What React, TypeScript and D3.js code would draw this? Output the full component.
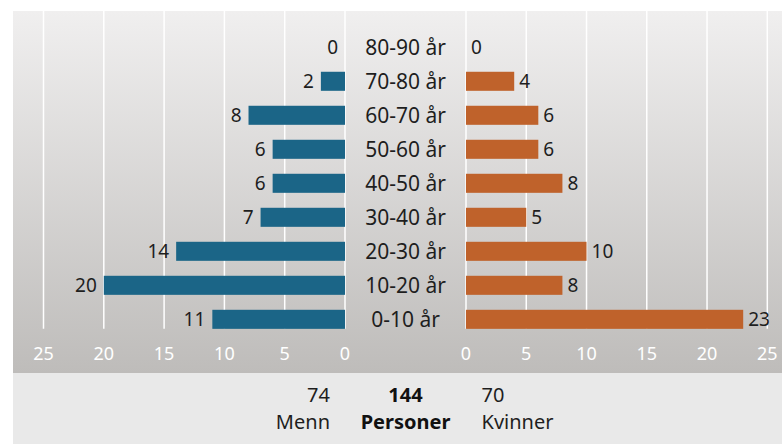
import React from 'react';
import * as d3 from 'd3';

// age groups, top to bottom
const ageGroups = ['80-90 år', '70-80 år', '60-70 år', '50-60 år', '40-50 år', '30-40 år', '20-30 år', '10-20 år', '0-10 år'];
const menValues = [0, 2, 8, 6, 6, 7, 14, 20, 11];
const womenValues = [0, 4, 6, 6, 8, 5, 10, 8, 23];
const axisTicks = [0, 5, 10, 15, 20, 25];
const menLabel = 'Menn';
const womenLabel = 'Kvinner';
const totalLabel = 'Personer';

const W = 782;
const H = 444;
const FONT = "'Noto Sans', 'Open Sans', sans-serif";
const BLUE = '#1b6587';
const ORANGE = '#bf622b';
const TEXT = '#1e1e1e';

export default function App() {
  const panelLeft = 13;
  const panelTop = 11;
  const panelBottom = 373;

  const xLeft = d3.scaleLinear().domain([0, 25]).range([345, 43.5]);
  const xRight = d3.scaleLinear().domain([0, 25]).range([466, 767.3]);
  const y = d3.scaleBand<string>().domain(ageGroups).range([22.8, 343.8]).paddingInner(0.44).paddingOuter(0.44);
  const bw = y.bandwidth();
  const gridBottom = (y(ageGroups[ageGroups.length - 1]) as number) + bw;
  const midX = (xLeft(0) + xRight(0)) / 2;

  const totalMen = d3.sum(menValues);
  const totalWomen = d3.sum(womenValues);

  return (
    <div style={{ position: 'fixed', left: 0, top: 0 }}>
      <svg width={W} height={H} style={{ display: 'block', fontFamily: FONT }}>
        <defs>
          <linearGradient id="bg" x1="0" y1="0" x2="0" y2="1">
            <stop offset="0%" stopColor="#f0efef" />
            <stop offset="100%" stopColor="#bebcba" />
          </linearGradient>
        </defs>
        <rect x={0} y={0} width={W} height={H} fill="#ffffff" />
        <rect x={panelLeft} y={panelTop} width={W - panelLeft} height={panelBottom - panelTop} fill="url(#bg)" />
        <rect x={panelLeft} y={panelBottom} width={W - panelLeft} height={H - panelBottom} fill="#e9e9e9" />

        {/* gridlines */}
        {axisTicks.map(t => (
          <g key={'g' + t}>
            <line x1={xLeft(t)} x2={xLeft(t)} y1={panelTop} y2={gridBottom} stroke="#ffffff" strokeWidth={1.5} />
            <line x1={xRight(t)} x2={xRight(t)} y1={panelTop} y2={gridBottom} stroke="#ffffff" strokeWidth={1.5} />
          </g>
        ))}

        {/* bars */}
        {ageGroups.map((g, i) => {
          const top = y(g) as number;
          const cy = top + bw / 2;
          const m = menValues[i];
          const w = womenValues[i];
          return (
            <g key={g}>
              {m > 0 && (
                <rect x={xLeft(m)} y={top} width={xLeft(0) - xLeft(m)} height={bw} fill={BLUE} />
              )}
              {w > 0 && (
                <rect x={xRight(0)} y={top} width={xRight(w) - xRight(0)} height={bw} fill={ORANGE} />
              )}
              <text x={xLeft(m) - 7} y={cy + 7} textAnchor="end" fontSize={19} fill={TEXT}>{m}</text>
              <text x={xRight(w) + 5} y={cy + 7} textAnchor="start" fontSize={19} fill={TEXT}>{w}</text>
              <text x={midX} y={cy + 8} textAnchor="middle" fontSize={21} fill={TEXT}>{g}</text>
            </g>
          );
        })}

        {/* axis tick labels */}
        {axisTicks.map(t => (
          <g key={'t' + t}>
            <text x={xLeft(t)} y={360} textAnchor="middle" fontSize={18} fill="#ffffff">{t}</text>
            <text x={xRight(t)} y={360} textAnchor="middle" fontSize={18} fill="#ffffff">{t}</text>
          </g>
        ))}

        {/* totals */}
        <text x={330} y={402} textAnchor="end" fontSize={20} fill={TEXT}>{totalMen}</text>
        <text x={330} y={429} textAnchor="end" fontSize={20} fill={TEXT}>{menLabel}</text>
        <text x={midX} y={402} textAnchor="middle" fontSize={20} fontWeight="bold" fill="#111">{totalMen + totalWomen}</text>
        <text x={midX} y={429} textAnchor="middle" fontSize={20} fontWeight="bold" fill="#111">{totalLabel}</text>
        <text x={481.5} y={402} textAnchor="start" fontSize={20} fill={TEXT}>{totalWomen}</text>
        <text x={481.5} y={429} textAnchor="start" fontSize={20} fill={TEXT}>{womenLabel}</text>
      </svg>
    </div>
  );
}
